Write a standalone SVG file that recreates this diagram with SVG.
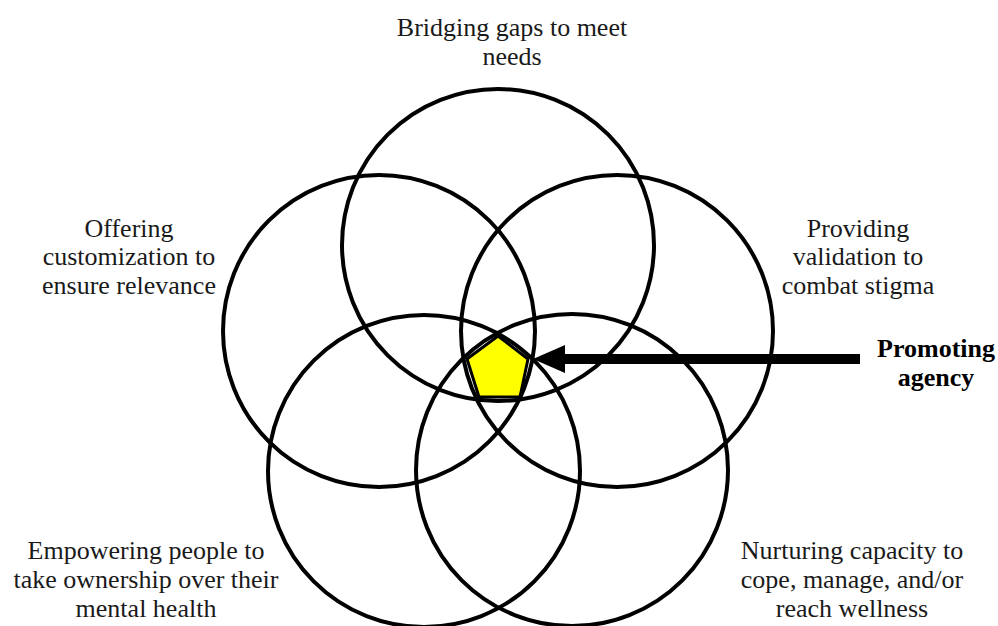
<svg xmlns="http://www.w3.org/2000/svg" width="998" height="626" viewBox="0 0 998 626">
<style>
.c{fill:none;stroke:#000;stroke-width:4}
.t{font-family:"Liberation Serif","Times New Roman",serif;font-size:26px;fill:#1a1a1a;text-anchor:middle}
.b{font-weight:bold;fill:#000}
</style>
<rect width="998" height="626" fill="#fff"/>
<g id="center">
<polygon points="498,336 528,359 520,397 479,397 467,359" fill="#ffff00" stroke="#000" stroke-width="3" stroke-linejoin="round"/>
</g>
<g id="circles">
<circle id="c-top" class="c" cx="498" cy="245" r="156"/>
<circle id="c-left" class="c" cx="379" cy="331" r="156"/>
<circle id="c-right" class="c" cx="617" cy="331" r="156"/>
<circle id="c-bl" class="c" cx="424" cy="471" r="156"/>
<circle id="c-br" class="c" cx="572" cy="470" r="156"/>
</g>
<g id="connectors">
<line x1="560" y1="359" x2="860" y2="359" stroke="#000" stroke-width="10"/>
<polygon points="533,359 565,345 565,373" fill="#000"/>
</g>
<g id="label-top"><text class="t" x="512" y="36">Bridging gaps to meet</text><text class="t" x="512" y="65">needs</text></g>
<g id="label-left"><text class="t" x="129" y="237">Offering</text><text class="t" x="129" y="265">customization to</text><text class="t" x="129" y="294">ensure relevance</text></g>
<g id="label-right"><text class="t" x="858" y="237">Providing</text><text class="t" x="858" y="265">validation to</text><text class="t" x="858" y="294">combat stigma</text></g>
<g id="label-bl"><text class="t" x="146" y="559">Empowering people to</text><text class="t" x="146" y="588">take ownership over their</text><text class="t" x="146" y="617">mental health</text></g>
<g id="label-br"><text class="t" x="852" y="559">Nurturing capacity to</text><text class="t" x="852" y="588">cope, manage, and/or</text><text class="t" x="852" y="617">reach wellness</text></g>
<g id="label-agency"><text class="t b" x="936" y="357">Promoting</text><text class="t b" x="936" y="386">agency</text></g>
</svg>
